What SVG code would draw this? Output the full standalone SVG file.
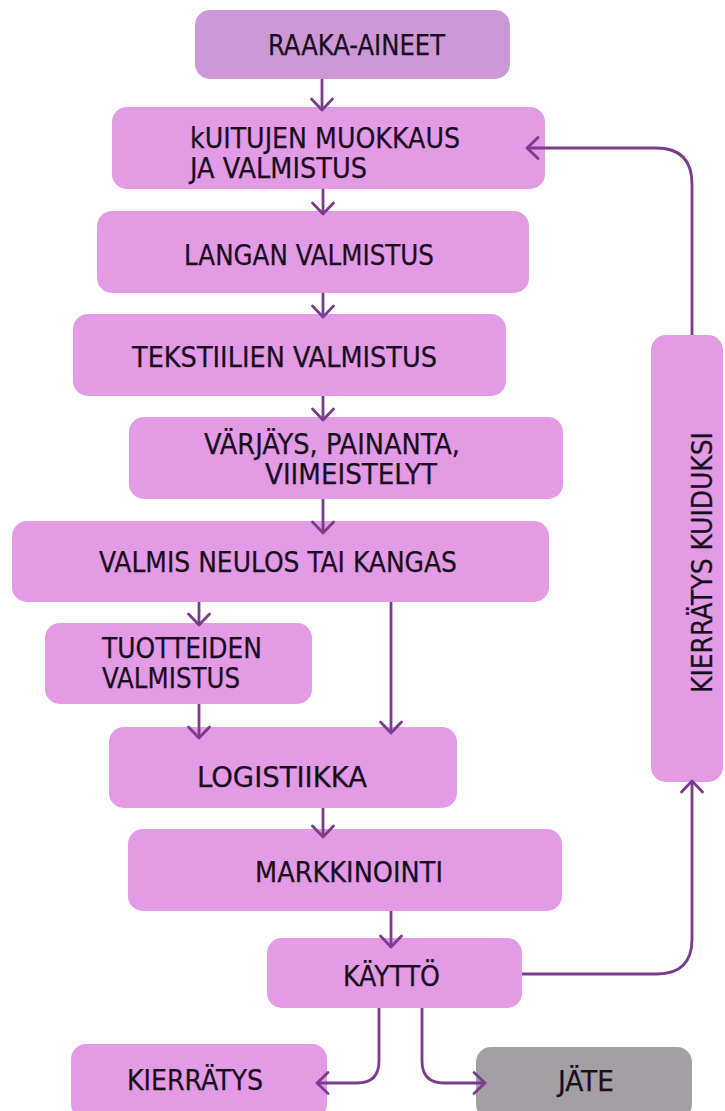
<svg xmlns="http://www.w3.org/2000/svg" width="725" height="1111" viewBox="0 0 725 1111">
<defs>
<style>
.box{fill:#e39be6;}
.raw{fill:#cc99d6;}
.waste{fill:#a39fa3;}
.lbl{font-family:"DejaVu Sans Condensed","DejaVu Sans",sans-serif;font-size:28.5px;fill:#1a0e1e;stroke:#1a0e1e;stroke-width:0.25;}
.con{fill:none;stroke:#7b3b8e;stroke-width:2.8;}
</style>
<marker id="ah" markerUnits="userSpaceOnUse" markerWidth="30" markerHeight="30" viewBox="-15 -15 30 30" refX="0" refY="0" orient="auto" overflow="visible">
<path d="M-11,-10.5 L0,0 L-11,10.5" fill="none" stroke="#7b3b8e" stroke-width="2.8" stroke-linecap="round" stroke-linejoin="round"/>
</marker>
</defs>
<rect width="725" height="1111" fill="#ffffff"/>

<g id="raaka-aineet"><rect class="raw" x="195" y="10" width="315" height="69" rx="15"/><text class="lbl" x="268" y="55" textLength="177" lengthAdjust="spacingAndGlyphs">RAAKA-AINEET</text></g>
<g id="kuitujen"><rect class="box" x="112" y="107" width="433" height="82" rx="15"/><text class="lbl" x="190" y="148" textLength="270" lengthAdjust="spacingAndGlyphs">kUITUJEN MUOKKAUS</text><text class="lbl" x="190" y="178" textLength="177" lengthAdjust="spacingAndGlyphs">JA VALMISTUS</text></g>
<g id="langan"><rect class="box" x="97" y="211" width="432" height="82" rx="15"/><text class="lbl" x="184" y="265" textLength="250" lengthAdjust="spacingAndGlyphs">LANGAN VALMISTUS</text></g>
<g id="tekstiilien"><rect class="box" x="73" y="314" width="433" height="82" rx="15"/><text class="lbl" x="132" y="367" textLength="305" lengthAdjust="spacingAndGlyphs">TEKSTIILIEN VALMISTUS</text></g>
<g id="varjays"><rect class="box" x="129" y="417" width="434" height="82" rx="15"/><text class="lbl" x="204" y="454" textLength="256" lengthAdjust="spacingAndGlyphs">VÄRJÄYS, PAINANTA,</text><text class="lbl" x="265" y="484" textLength="172" lengthAdjust="spacingAndGlyphs">VIIMEISTELYT</text></g>
<g id="valmis"><rect class="box" x="12" y="521" width="537" height="81" rx="15"/><text class="lbl" x="99" y="572" textLength="358" lengthAdjust="spacingAndGlyphs">VALMIS NEULOS TAI KANGAS</text></g>
<g id="tuotteiden"><rect class="box" x="45" y="623" width="267" height="81" rx="15"/><text class="lbl" x="102" y="658" textLength="160" lengthAdjust="spacingAndGlyphs">TUOTTEIDEN</text><text class="lbl" x="102" y="688" textLength="138" lengthAdjust="spacingAndGlyphs">VALMISTUS</text></g>
<g id="logistiikka"><rect class="box" x="109" y="727" width="348" height="81" rx="15"/><text class="lbl" x="197" y="787" textLength="170" lengthAdjust="spacingAndGlyphs">LOGISTIIKKA</text></g>
<g id="markkinointi"><rect class="box" x="128" y="829" width="434" height="82" rx="15"/><text class="lbl" x="255" y="882" textLength="188" lengthAdjust="spacingAndGlyphs">MARKKINOINTI</text></g>
<g id="kaytto"><rect class="box" x="267" y="938" width="255" height="70" rx="15"/><text class="lbl" x="343" y="986" textLength="97" lengthAdjust="spacingAndGlyphs">KÄYTTÖ</text></g>
<g id="kierratys"><rect class="box" x="71" y="1044" width="256" height="75" rx="15"/><text class="lbl" x="127" y="1090" textLength="136" lengthAdjust="spacingAndGlyphs">KIERRÄTYS</text></g>
<g id="jate"><rect class="waste" x="476" y="1047" width="216" height="72" rx="15"/><text class="lbl" x="558" y="1091" textLength="56" lengthAdjust="spacingAndGlyphs">JÄTE</text></g>
<g id="kierratys-kuiduksi"><rect class="box" x="651" y="335" width="72" height="447" rx="15"/><text class="lbl" transform="translate(712,693) rotate(-90)" x="0" y="0" textLength="261" lengthAdjust="spacingAndGlyphs">KIERRÄTYS KUIDUKSI</text></g>

<g id="connectors">
<path class="con" d="M322,79 V110" marker-end="url(#ah)"/>
<path class="con" d="M323,189 V214" marker-end="url(#ah)"/>
<path class="con" d="M323,293 V317" marker-end="url(#ah)"/>
<path class="con" d="M323,396 V420" marker-end="url(#ah)"/>
<path class="con" d="M323,499 V533" marker-end="url(#ah)"/>
<path class="con" d="M199,602 V625" marker-end="url(#ah)"/>
<path class="con" d="M199,704 V738" marker-end="url(#ah)"/>
<path class="con" d="M391,602 V733" marker-end="url(#ah)"/>
<path class="con" d="M323,808 V837" marker-end="url(#ah)"/>
<path class="con" d="M391,911 V947" marker-end="url(#ah)"/>
<path class="con" d="M379,1008 V1061 Q379,1083 357,1083 H317" marker-end="url(#ah)"/>
<path class="con" d="M422,1008 V1061 Q422,1083 444,1083 H485" marker-end="url(#ah)"/>
<path class="con" d="M522,974 H657 Q692,974 692,939 V781" marker-end="url(#ah)"/>
<path class="con" d="M692,335 V184 Q692,148 656,148 H527" marker-end="url(#ah)"/>
</g>
</svg>
